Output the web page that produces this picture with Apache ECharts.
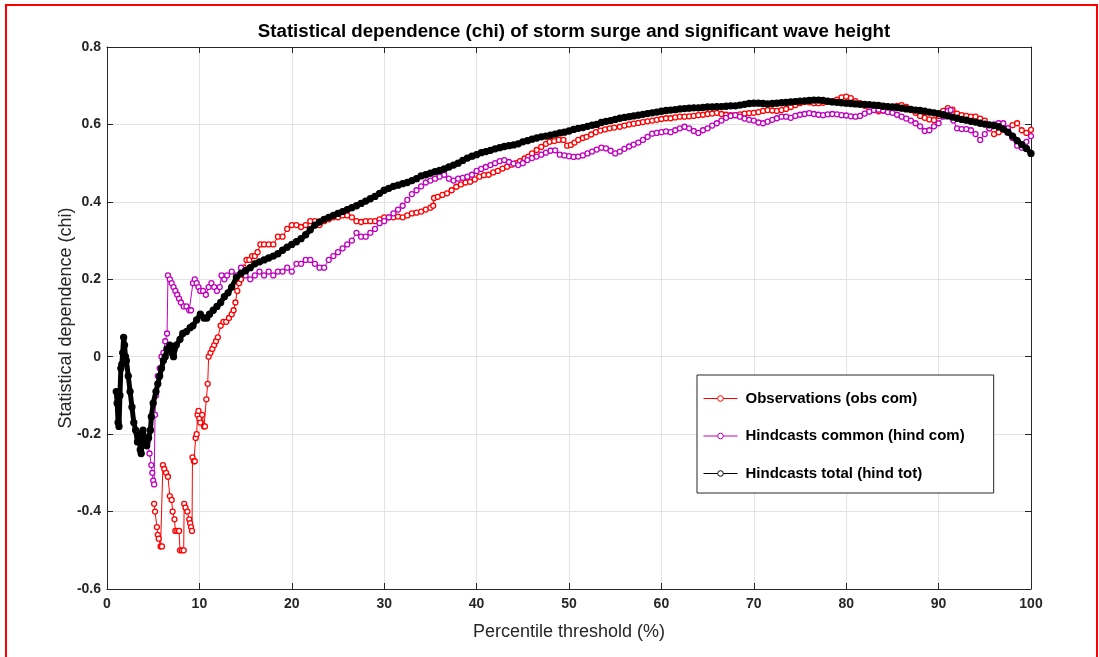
<!DOCTYPE html>
<html>
<head>
<meta charset="utf-8">
<title>Statistical dependence (chi)</title>
<script src="https://cdn.jsdelivr.net/npm/echarts@6/dist/echarts.min.js"></script>
<style>
  html, body { margin: 0; padding: 0; background: #fff; }
  #main { width: 1099px; height: 657px; }
</style>
</head>
<body>
<div id="main"></div>
<script>
// axis ticks
var xTicks = [0, 100, 10];      // min, max, step
var yTicks = [-0.6, 0.8, 0.2];

// Observations (obs com)  [percentile, chi]
var obsPoints = [
  [5.1,-0.38],[5.2,-0.40],[5.4,-0.44],[5.5,-0.46],[5.6,-0.47],[5.8,-0.49],[5.95,-0.49],
  [6.05,-0.28],[6.2,-0.29],[6.4,-0.30],[6.6,-0.31],[6.8,-0.36],[7.0,-0.37],[7.1,-0.40],
  [7.3,-0.42],[7.4,-0.45],[7.6,-0.45],[7.8,-0.45],[7.9,-0.50],[8.1,-0.50],[8.3,-0.50],
  [8.35,-0.38],[8.5,-0.39],[8.7,-0.40],[8.9,-0.42],[9.0,-0.43],[9.1,-0.44],[9.2,-0.45],
  [9.25,-0.26],[9.4,-0.27],[9.5,-0.27],[9.6,-0.21],[9.7,-0.20],[9.8,-0.15],[9.9,-0.14],
  [10.0,-0.16],[10.1,-0.17],[10.3,-0.15],[10.5,-0.18],[10.6,-0.18],[10.75,-0.11],[10.9,-0.07],
  [11.0,0.0],[11.2,0.01],[11.4,0.02],[11.6,0.03],[11.8,0.04],[12.0,0.05],[12.3,0.08],
  [12.6,0.09],[12.9,0.09],[13.2,0.10],[13.5,0.11],[13.7,0.12],[13.9,0.14],[14.1,0.17],
  [14.3,0.19],[14.5,0.20],[14.8,0.23],[15.1,0.25],[15.4,0.25],[15.7,0.26],[16.0,0.26],
  [16.3,0.27],[16.6,0.29],[17.0,0.29],[17.5,0.29],[18.0,0.29],[18.5,0.31],[19.0,0.31],
  [19.5,0.33],[20.0,0.34],[20.5,0.34],[21.0,0.335],[21.5,0.34],[22.0,0.35],[22.5,0.35],
  [23.0,0.34],[23.5,0.35],[24.0,0.355],[24.5,0.36],[25.0,0.36],[25.5,0.365],[26.0,0.365],
  [26.5,0.36],[27.0,0.35],[27.5,0.348],[28.0,0.35],[28.5,0.35],[29.0,0.35],[29.5,0.355],
  [30.0,0.36],[30.5,0.36],[31.0,0.36],[31.5,0.362],[32.0,0.36],[32.5,0.365],[33.0,0.37],
  [33.5,0.372],[34.0,0.375],[34.5,0.38],[35.0,0.385],[35.3,0.39],[35.4,0.41],[35.8,0.413],
  [36.3,0.418],[36.8,0.422],[37.3,0.43],[37.8,0.439],[38.3,0.445],[38.8,0.45],[39.3,0.452],
  [39.8,0.458],[40.3,0.465],[40.8,0.469],[41.3,0.47],[41.8,0.476],[42.3,0.48],[42.8,0.486],
  [43.3,0.491],[43.8,0.496],[44.3,0.50],[44.7,0.505],[45.2,0.512],[45.6,0.517],[46.0,0.525],
  [46.5,0.534],[47.0,0.542],[47.5,0.55],[47.9,0.555],[48.4,0.557],[48.9,0.56],[49.4,0.56],
  [49.8,0.545],[50.2,0.547],[50.6,0.553],[51.0,0.56],[51.5,0.565],[51.9,0.568],[52.4,0.574],
  [52.9,0.58],[53.4,0.584],[53.9,0.587],[54.4,0.59],[54.9,0.592],[55.5,0.594],[56.0,0.597],
  [56.5,0.60],[57.0,0.602],[57.5,0.604],[58.0,0.606],[58.5,0.608],[59.0,0.61],[59.5,0.612],
  [60.0,0.614],[60.5,0.616],[61.0,0.616],[61.5,0.618],[62.0,0.62],[62.5,0.62],[63.0,0.621],
  [63.5,0.622],[64.0,0.624],[64.5,0.625],[65.0,0.627],[65.5,0.628],[66.0,0.63],[66.5,0.627],
  [67.0,0.625],[67.5,0.624],[68.0,0.624],[68.5,0.626],[69.0,0.628],[69.5,0.629],[70.0,0.63],
  [70.5,0.632],[71.0,0.635],[71.5,0.637],[72.0,0.636],[72.5,0.635],[73.0,0.637],[73.5,0.64],
  [74.0,0.645],[74.5,0.65],[75.0,0.655],[75.5,0.658],[76.0,0.657],[76.5,0.655],[77.0,0.655],
  [77.5,0.656],[78.0,0.658],[78.5,0.66],[79.0,0.664],[79.5,0.67],[80.0,0.672],[80.5,0.668],
  [81.0,0.66],[81.5,0.655],[82.0,0.648],[82.5,0.642],[83.0,0.637],[83.5,0.634],[84.0,0.636],
  [84.5,0.64],[85.0,0.645],[85.5,0.648],[86.0,0.65],[86.5,0.645],[87.0,0.637],[87.5,0.63],
  [88.0,0.622],[88.5,0.617],[89.0,0.613],[89.5,0.611],[90.0,0.622],[90.5,0.635],[91.0,0.642],
  [91.5,0.638],[92.0,0.628],[92.5,0.624],[93.0,0.622],[93.5,0.62],[94.0,0.62],[94.5,0.615],
  [95.0,0.61],[95.5,0.59],[96.0,0.575],[96.5,0.58],[97.0,0.588],[97.5,0.59],[98.0,0.598],
  [98.5,0.603],[99.0,0.585],[99.5,0.578],[100.0,0.586]
];

// Hindcasts common (hind com)
var hindComPoints = [
  [4.4,-0.22],[4.6,-0.25],[4.8,-0.28],[4.9,-0.30],[5.0,-0.32],[5.1,-0.33],[5.2,-0.15],
  [5.3,-0.10],[5.5,-0.05],[5.7,-0.03],[5.9,0.0],[6.1,0.01],[6.3,0.04],[6.5,0.06],
  [6.6,0.21],[6.8,0.20],[7.0,0.19],[7.2,0.18],[7.4,0.17],[7.6,0.16],[7.8,0.15],[8.0,0.14],
  [8.3,0.13],[8.6,0.13],[8.9,0.12],[9.1,0.12],[9.3,0.19],[9.5,0.20],[9.7,0.19],[9.9,0.18],
  [10.1,0.17],[10.4,0.17],[10.7,0.16],[11.0,0.18],[11.3,0.19],[11.6,0.18],[11.9,0.17],
  [12.2,0.18],[12.4,0.21],[12.7,0.20],[13.0,0.21],[13.5,0.22],[14.0,0.21],[14.5,0.23],
  [15.0,0.21],[15.5,0.20],[16.0,0.21],[16.5,0.22],[17.0,0.21],[17.5,0.22],[18.0,0.21],
  [18.5,0.22],[19.0,0.22],[19.5,0.23],[20.0,0.22],[20.5,0.24],[21.0,0.24],[21.5,0.25],
  [22.0,0.25],[22.5,0.24],[23.0,0.23],[23.5,0.23],[24.0,0.25],[24.5,0.26],[25.0,0.27],
  [25.5,0.28],[26.0,0.29],[26.5,0.30],[27.0,0.32],[27.5,0.31],[28.0,0.31],[28.5,0.32],
  [29.0,0.33],[29.5,0.345],[30.0,0.35],[30.5,0.36],[31.0,0.37],[31.5,0.38],[32.0,0.39],
  [32.5,0.405],[33.0,0.42],[33.5,0.43],[34.0,0.44],[34.5,0.45],[35.0,0.455],[35.5,0.46],
  [36.0,0.465],[36.5,0.47],[37.0,0.46],[37.5,0.455],[38.0,0.46],[38.5,0.462],[39.0,0.465],
  [39.5,0.47],[40.0,0.48],[40.5,0.485],[41.0,0.49],[41.5,0.495],[42.0,0.50],[42.5,0.505],
  [43.0,0.508],[43.5,0.503],[44.0,0.499],[44.5,0.495],[45.0,0.50],[45.5,0.508],[46.0,0.513],
  [46.5,0.517],[47.0,0.522],[47.5,0.527],[48.0,0.532],[48.5,0.533],[49.0,0.522],[49.5,0.52],
  [50.0,0.518],[50.5,0.516],[51.0,0.517],[51.5,0.52],[52.0,0.525],[52.5,0.53],[53.0,0.535],
  [53.5,0.54],[54.0,0.538],[54.5,0.532],[55.0,0.525],[55.5,0.53],[56.0,0.537],[56.5,0.543],
  [57.0,0.548],[57.5,0.553],[58.0,0.56],[58.5,0.568],[59.0,0.576],[59.5,0.578],[60.0,0.58],
  [60.5,0.582],[61.0,0.58],[61.5,0.585],[62.0,0.59],[62.5,0.594],[63.0,0.59],[63.5,0.583],
  [64.0,0.578],[64.5,0.585],[65.0,0.59],[65.5,0.597],[66.0,0.603],[66.5,0.61],[67.0,0.617],
  [67.5,0.622],[68.0,0.624],[68.5,0.62],[69.0,0.615],[69.5,0.612],[70.0,0.61],[70.5,0.605],
  [71.0,0.603],[71.5,0.607],[72.0,0.612],[72.5,0.616],[73.0,0.62],[73.5,0.62],[74.0,0.617],
  [74.5,0.622],[75.0,0.625],[75.5,0.627],[76.0,0.629],[76.5,0.627],[77.0,0.625],[77.5,0.624],
  [78.0,0.626],[78.5,0.627],[79.0,0.626],[79.5,0.624],[80.0,0.623],[80.5,0.621],[81.0,0.62],
  [81.5,0.622],[82.0,0.628],[82.5,0.633],[83.0,0.637],[83.5,0.638],[84.0,0.636],[84.5,0.632],
  [85.0,0.63],[85.5,0.625],[86.0,0.62],[86.5,0.615],[87.0,0.61],[87.5,0.603],[88.0,0.595],
  [88.5,0.583],[89.0,0.585],[89.5,0.595],[90.0,0.603],[90.5,0.62],[91.0,0.635],[91.3,0.637],
  [91.6,0.61],[92.0,0.59],[92.5,0.588],[93.0,0.588],[93.5,0.585],[94.0,0.575],[94.5,0.56],
  [95.0,0.575],[95.5,0.59],[96.0,0.60],[96.5,0.603],[97.0,0.603],[97.5,0.59],[98.0,0.565],
  [98.5,0.545],[99.0,0.54],[99.5,0.555],[100.0,0.57]
];

// Hindcasts total (hind tot)
var hindTotPoints = [
  [1.0,-0.09],[1.1,-0.12],[1.2,-0.17],[1.3,-0.18],[1.4,-0.10],[1.5,-0.03],[1.6,-0.02],
  [1.7,0.01],[1.8,0.05],[1.9,0.03],[2.0,0.0],[2.1,-0.01],[2.3,-0.05],[2.5,-0.09],[2.7,-0.13],
  [2.9,-0.17],[3.1,-0.19],[3.3,-0.22],[3.5,-0.20],[3.6,-0.24],[3.7,-0.25],[3.9,-0.19],
  [4.1,-0.21],[4.3,-0.23],[4.5,-0.21],[4.7,-0.19],[4.8,-0.155],[5.0,-0.12],[5.3,-0.09],
  [5.5,-0.07],[5.7,-0.05],[5.9,-0.03],[6.1,-0.01],[6.3,0.0],[6.5,0.02],[6.8,0.03],[7.0,0.01],
  [7.2,0.0],[7.5,0.03],[7.9,0.045],[8.2,0.06],[8.6,0.065],[9.0,0.075],[9.3,0.08],[9.7,0.095],
  [10.1,0.11],[10.5,0.10],[10.8,0.10],[11.1,0.11],[11.5,0.12],[11.9,0.13],[12.3,0.14],
  [12.7,0.155],[13.1,0.165],[13.5,0.18],[14.0,0.205],[14.5,0.215],[15.0,0.222],[15.5,0.23],
  [16.0,0.24],[16.5,0.245],[17.0,0.25],[17.5,0.255],[18.0,0.26],[18.5,0.266],[19.0,0.275],
  [19.5,0.283],[20.0,0.29],[20.5,0.297],[21.0,0.305],[21.5,0.315],[22.0,0.328],[22.5,0.34],
  [23.0,0.348],[23.5,0.355],[24.0,0.36],[24.5,0.365],[25.0,0.37],[25.5,0.375],[26.0,0.38],
  [26.5,0.385],[27.0,0.39],[27.5,0.396],[28.0,0.402],[28.5,0.408],[29.0,0.414],[29.5,0.422],
  [30.0,0.43],[30.5,0.435],[31.0,0.44],[31.5,0.443],[32.0,0.447],[32.5,0.45],[33.0,0.455],
  [33.5,0.46],[34.0,0.467],[34.5,0.47],[35.0,0.474],[35.5,0.478],[36.0,0.481],[36.5,0.485],
  [37.0,0.49],[37.5,0.495],[38.0,0.50],[38.5,0.507],[39.0,0.513],[39.5,0.518],[40.0,0.522],
  [40.5,0.527],[41.0,0.53],[41.5,0.533],[42.0,0.537],[42.5,0.54],[43.0,0.543],[43.5,0.545],
  [44.0,0.547],[44.5,0.55],[45.0,0.555],[45.5,0.558],[46.0,0.562],[46.5,0.565],[47.0,0.568],
  [47.5,0.57],[48.0,0.572],[48.5,0.575],[49.0,0.578],[49.5,0.58],[50.0,0.583],[50.5,0.587],
  [51.0,0.59],[51.5,0.592],[52.0,0.595],[52.5,0.598],[53.0,0.60],[53.5,0.605],[54.0,0.608],
  [54.5,0.61],[55.0,0.613],[55.5,0.616],[56.0,0.618],[56.5,0.62],[57.0,0.622],[57.5,0.624],
  [58.0,0.626],[58.5,0.628],[59.0,0.63],[59.5,0.632],[60.0,0.634],[60.5,0.636],[61.0,0.637],
  [61.5,0.638],[62.0,0.64],[62.5,0.641],[63.0,0.642],[63.5,0.643],[64.0,0.643],[64.5,0.644],
  [65.0,0.645],[65.5,0.645],[66.0,0.646],[66.5,0.646],[67.0,0.647],[67.5,0.648],[68.0,0.648],
  [68.5,0.65],[69.0,0.652],[69.5,0.654],[70.0,0.655],[70.5,0.655],[71.0,0.654],[71.5,0.653],
  [72.0,0.654],[72.5,0.655],[73.0,0.656],[73.5,0.657],[74.0,0.658],[74.5,0.659],[75.0,0.66],
  [75.5,0.661],[76.0,0.662],[76.5,0.663],[77.0,0.663],[77.5,0.662],[78.0,0.66],[78.5,0.658],
  [79.0,0.657],[79.5,0.656],[80.0,0.655],[80.5,0.654],[81.0,0.653],[81.5,0.652],[82.0,0.652],
  [82.5,0.651],[83.0,0.65],[83.5,0.649],[84.0,0.647],[84.5,0.646],[85.0,0.645],[85.5,0.644],
  [86.0,0.642],[86.5,0.64],[87.0,0.639],[87.5,0.637],[88.0,0.636],[88.5,0.634],[89.0,0.632],
  [89.5,0.63],[90.0,0.628],[90.5,0.625],[91.0,0.622],[91.5,0.619],[92.0,0.616],[92.5,0.613],
  [93.0,0.611],[93.5,0.608],[94.0,0.606],[94.5,0.603],[95.0,0.601],[95.5,0.599],[96.0,0.597],
  [96.5,0.594],[97.0,0.588],[97.5,0.58],[98.0,0.57],[98.5,0.558],[99.0,0.548],[99.5,0.538],
  [100.0,0.525]
];

var seriesNames = ['Observations (obs com)', 'Hindcasts common (hind com)', 'Hindcasts total (hind tot)'];
var seriesColors = ['#ff0000', '#bf00bf', '#000000'];

var font = '"Liberation Sans", Arial, Helvetica, sans-serif';
var axisColor = '#262626';

function fmt(v) { return String(+v.toFixed(1)); }

var chart = echarts.init(document.getElementById('main'));

function lineSeries(i, pts, filled) {
  return {
    name: seriesNames[i],
    type: 'line',
    data: pts,
    xAxisIndex: 0,
    yAxisIndex: 0,
    symbol: 'circle',
    symbolSize: filled ? 6 : 5,
    showAllSymbol: true,
    lineStyle: { color: seriesColors[i], width: filled ? 5 : 1 },
    itemStyle: {
      color: filled ? seriesColors[i] : '#ffffff',
      borderColor: seriesColors[i],
      borderWidth: 1.3
    },
    emphasis: { disabled: true },
    z: 2 + i
  };
}

chart.setOption({
  animation: false,
  backgroundColor: '#ffffff',
  title: {
    text: 'Statistical dependence (chi) of storm surge and significant wave height',
    left: 569,
    textAlign: 'center',
    top: 17,
    textStyle: { fontFamily: font, fontSize: 18.7, fontWeight: 'bold', color: '#000' }
  },
  grid: { left: 107, right: 68, top: 47, bottom: 68 },
  legend: {
    orient: 'vertical',
    left: 697,
    top: 375,
    padding: [16, 29, 12, 6],
    itemGap: 22.5,
    itemWidth: 34,
    itemHeight: 7,
    backgroundColor: '#ffffff',
    borderColor: '#262626',
    borderWidth: 1,
    data: seriesNames.map(function (n, i) {
      return { name: n, itemStyle: { color: '#ffffff', borderColor: seriesColors[i], borderWidth: 1 }, lineStyle: { width: 1 } };
    }),
    textStyle: { fontFamily: font, fontSize: 15, fontWeight: 'bold', color: '#000', padding: [0, 0, 0, 3] }
  },
  xAxis: [{
    type: 'value',
    min: xTicks[0], max: xTicks[1], interval: xTicks[2],
    name: 'Percentile threshold (%)',
    nameLocation: 'middle',
    nameGap: 34,
    nameTextStyle: { fontFamily: font, fontSize: 18, color: axisColor },
    axisLine: { onZero: false, lineStyle: { color: axisColor, width: 1 } },
    axisTick: { inside: true, length: 6, lineStyle: { color: axisColor } },
    axisLabel: { fontFamily: font, fontSize: 14, fontWeight: 'bold', color: axisColor, margin: 8, formatter: fmt },
    splitLine: { show: true, lineStyle: { color: '#e3e3e3', width: 1 } }
  }, {
    type: 'value', position: 'top',
    min: xTicks[0], max: xTicks[1], interval: xTicks[2],
    axisLine: { show: true, onZero: false, lineStyle: { color: axisColor, width: 1 } },
    axisTick: { show: true, inside: true, length: 6, lineStyle: { color: axisColor } },
    axisLabel: { show: false },
    splitLine: { show: false }
  }],
  yAxis: [{
    type: 'value',
    min: yTicks[0], max: yTicks[1], interval: yTicks[2],
    name: 'Statistical dependence (chi)',
    nameLocation: 'middle',
    nameGap: 32,
    nameMoveOverlap: false,
    nameTextStyle: { fontFamily: font, fontSize: 18, color: axisColor },
    axisLine: { show: true, onZero: false, lineStyle: { color: axisColor, width: 1 } },
    axisTick: { show: true, inside: true, length: 6, lineStyle: { color: axisColor } },
    axisLabel: { fontFamily: font, fontSize: 14, fontWeight: 'bold', color: axisColor, margin: 6, formatter: fmt },
    splitLine: { show: true, lineStyle: { color: '#e3e3e3', width: 1 } }
  }, {
    type: 'value', position: 'right',
    min: yTicks[0], max: yTicks[1], interval: yTicks[2],
    axisLine: { show: true, onZero: false, lineStyle: { color: axisColor, width: 1 } },
    axisTick: { show: true, inside: true, length: 6, lineStyle: { color: axisColor } },
    axisLabel: { show: false },
    splitLine: { show: false }
  }],
  series: [
    lineSeries(0, obsPoints, false),
    lineSeries(1, hindComPoints, false),
    lineSeries(2, hindTotPoints, true)
  ],
  graphic: [{
    type: 'rect',
    shape: { x: 6, y: 5, width: 1091, height: 720 },
    style: { fill: 'none', stroke: '#ff0000', lineWidth: 2 },
    silent: true,
    z: 100
  }]
});
</script>
</body>
</html>
